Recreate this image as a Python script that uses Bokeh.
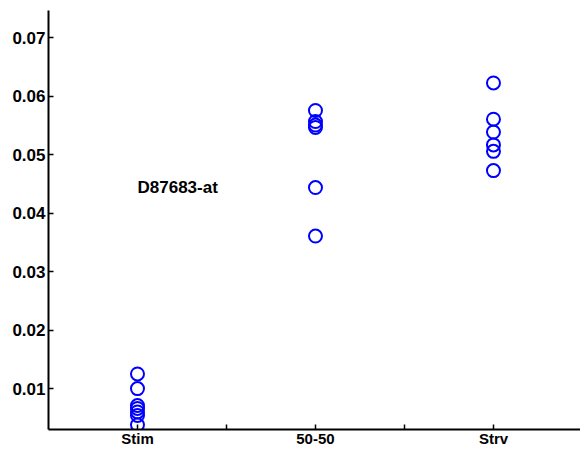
from bokeh.plotting import figure
from bokeh.models import FixedTicker, ColumnDataSource, Range1d
from bokeh.embed import file_html
from bokeh.resources import INLINE
from bokeh.core.properties import value

categories = ["Stim", "50-50", "Strv"]
stim_vals = [0.0125, 0.0100, 0.0071, 0.0066, 0.0060, 0.0054, 0.0038]
fifty_vals = [0.0576, 0.0557, 0.0551, 0.0547, 0.0444, 0.0361]
strv_vals = [0.0623, 0.0561, 0.0539, 0.0517, 0.0506, 0.0473]
y_ticks = [0.01, 0.02, 0.03, 0.04, 0.05, 0.06, 0.07]
gene_label = "D87683-at"

groups = [stim_vals, fifty_vals, strv_vals]
xs, ys = [], []
for i, vals in enumerate(groups):
    for v in vals:
        xs.append(i + 1)
        ys.append(v)
src = ColumnDataSource(dict(x=xs, y=ys))

Y0, Y1 = 0.003, 0.0747
p = figure(width=580, height=449, output_backend="svg", toolbar_location=None,
           x_range=Range1d(0.5, 3.489), y_range=Range1d(Y0, Y1),
           min_border_left=48, min_border_right=0, min_border_top=10, min_border_bottom=20)
p.outline_line_color = None
p.xgrid.visible = False
p.ygrid.visible = False

p.scatter("x", "y", source=src, marker="circle", size=13, fill_color=None,
          line_color="#0000ff", line_width=2)

p.text(x=[1], y=[0.0444], text=[gene_label], text_font=value("Liberation Sans"),
       text_font_style="bold", text_font_size="17px", text_baseline="middle",
       text_align="left", text_color="black")

font = "Liberation Sans"
for ax in (p.xaxis[0], p.yaxis[0]):
    ax.axis_line_color = "black"
    ax.axis_line_width = 2
    ax.major_tick_line_color = "black"
    ax.major_tick_line_width = 1.5
    ax.major_tick_in = 5
    ax.major_tick_out = 0
    ax.minor_tick_line_color = None
    ax.major_label_text_font = font
    ax.major_label_text_font_style = "bold"
    ax.major_label_text_font_size = "17px"
    ax.major_label_text_color = "black"

p.yaxis[0].ticker = FixedTicker(ticks=y_ticks)
p.yaxis[0].major_label_overrides = {t: f"{t:.2f}" for t in y_ticks}
p.yaxis[0].major_label_standoff = 3

xt = [1, 1.5, 2, 2.5, 3]
p.xaxis[0].ticker = FixedTicker(ticks=xt)
p.xaxis[0].major_label_overrides = {1: categories[0], 1.5: "", 2: categories[1], 2.5: "", 3: categories[2]}
p.xaxis[0].major_label_text_font_size = "15px"
p.xaxis[0].major_label_standoff = 0

open("out.html", "w").write(file_html(p, INLINE))
